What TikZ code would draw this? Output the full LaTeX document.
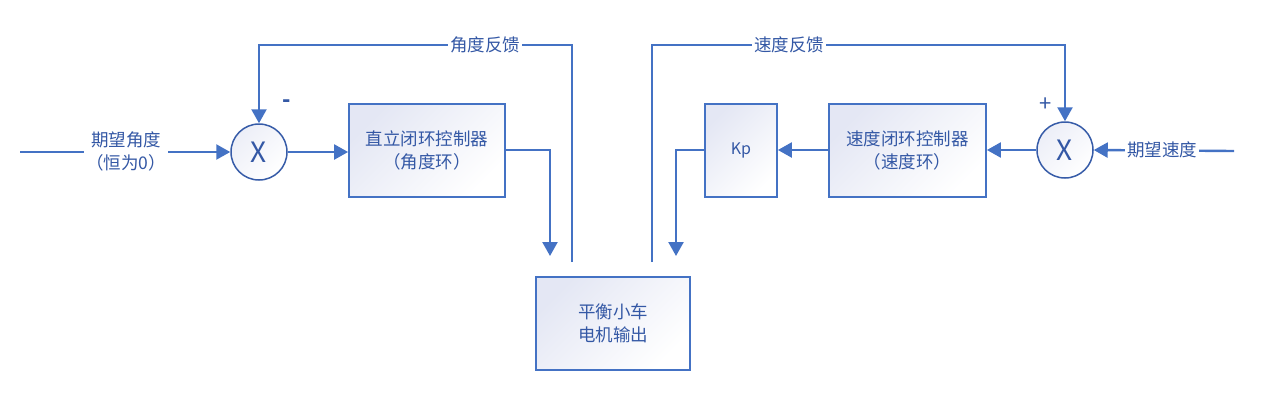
\documentclass[tikz,border=0pt]{standalone}
\usepackage{fontspec}
\setmainfont{Noto Sans CJK SC}
\usetikzlibrary{arrows.meta}
\definecolor{linecol}{RGB}{68,114,196}
\definecolor{txtcol}{RGB}{52,88,165}
\definecolor{circcol}{RGB}{55,92,168}
\definecolor{shadeA}{RGB}{228,231,244}
\tikzset{
  arr/.style={draw=linecol, line width=2.4pt, -{Triangle[length=14pt,width=15pt]}},
  boxst/.style={draw=linecol, line width=1.8pt, top color=shadeA, bottom color=white, shading angle=45,
    minimum height=93pt, inner sep=0pt, align=center, text=txtcol,
    font=\fontsize{17.5}{23}\selectfont},
  sumst/.style={circle, draw=circcol, line width=1.5pt, top color=shadeA!70, bottom color=white, shading angle=45,
    minimum size=56pt, inner sep=0pt, text=txtcol, font=\fontsize{28}{30}\selectfont},
  lbl/.style={fill=white, inner sep=2pt, text=txtcol, align=center, font=\fontsize{17.5}{23}\selectfont},
  sgn/.style={text=txtcol, inner sep=0pt, font=\fontsize{22}{22}\selectfont}
}
\begin{document}
\begin{tikzpicture}[x=1pt, y=-1pt]
\useasboundingbox (0,0) rectangle (1264,408);
% main nodes
\node[sumst] (c1) at (259,152) {X};
\node[boxst, minimum width=156pt] (box1) at (427,150.5) {直立闭环控制器\\（角度环）};
\node[boxst, minimum width=154pt] (out) at (613,323.5) {平衡小车\\电机输出};
\node[boxst, minimum width=72pt, font=\fontsize{16}{20}\selectfont] (kp) at (741,150.5) {Kp};
\node[boxst, minimum width=157pt] (box2) at (907.5,150.5) {速度闭环控制器\\（速度环）};
\node[sumst] (c2) at (1065,150) {X};
% coordinates
\coordinate (inL) at (20,152);
\coordinate (inR) at (1234,151);
\coordinate (fbL) at (572,262);
\coordinate (topL) at (572,45);
\coordinate (fbR) at (652,262);
\coordinate (topR) at (652,45);
\coordinate (dnL) at (550,256);
\coordinate (dnR) at (676,256);
% connectors
\draw[arr] (inL) -- (c1.west);
\draw[arr] (c1.east) -- (c1.east -| box1.west);
\draw[arr] (box1.east |- 0,150) -| (dnL);
\draw[arr] (fbL) -- (topL) -| (c1.north);
\draw[arr] (fbR) -- (topR) -| (c2.north);
\draw[arr] (inR) -- (c2.east);
\draw[arr] (c2.west) -- (c2.west -| box2.east);
\draw[arr] (box2.west |- 0,150) -- (kp.east |- 0,150);
\draw[arr] (kp.west |- 0,150) -| (dnR);
% labels
\node[lbl] (lblL) at (126,151.5) {期望角度\\（恒为0）};
\node[lbl] (lblR) at (1162,150) {期望速度};
\node[lbl, inner ysep=0pt] (fbLlbl) at (485,45) {角度反馈};
\node[lbl, inner ysep=0pt] (fbRlbl) at (789,45) {速度反馈};
\node[sgn, font=\fontsize{22}{22}\selectfont\bfseries] (minus) at (287,104) {-};
\node[sgn] (plus) at (1046,105) {+};
\end{tikzpicture}
\end{document}
